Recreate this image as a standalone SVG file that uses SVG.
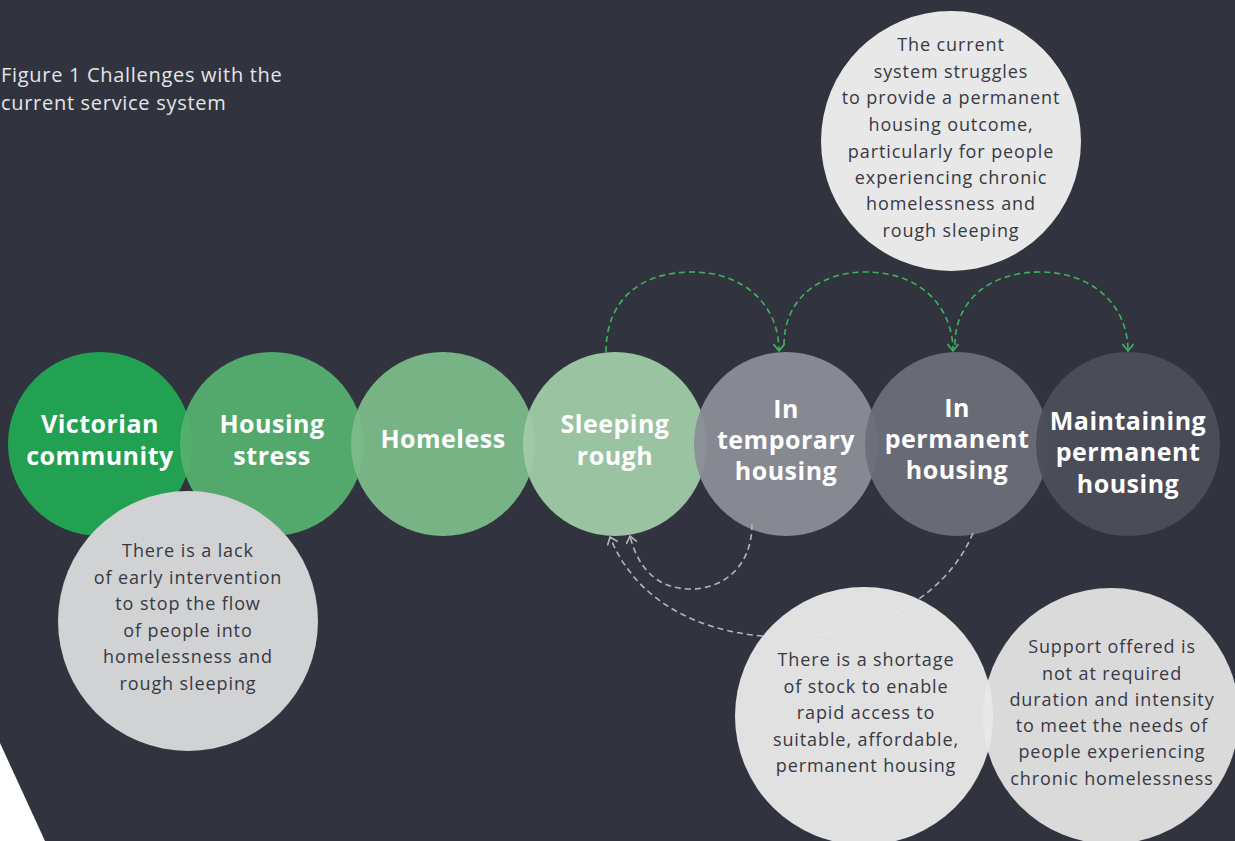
<svg xmlns="http://www.w3.org/2000/svg" width="1235" height="841" viewBox="0 0 1235 841">
  <defs>
    <marker id="arrowGreen" viewBox="0 0 12 12" refX="10" refY="6" markerWidth="12" markerHeight="12" markerUnits="userSpaceOnUse" orient="auto">
      <path d="M3,0.5 L10,6 L3,11.5" fill="none" stroke="#3db35e" stroke-width="1.6"/>
    </marker>
    <marker id="arrowGrey" viewBox="0 0 12 12" refX="10" refY="6" markerWidth="12" markerHeight="12" markerUnits="userSpaceOnUse" orient="auto">
      <path d="M3,0.5 L10,6 L3,11.5" fill="none" stroke="#b3b5bb" stroke-width="1.6"/>
    </marker>
  </defs>
  <style>
    .stage { fill-opacity: 0.95; }
    .label { font-family: "Open Sans", "Liberation Sans", sans-serif; font-weight: 700; font-size: 25px; letter-spacing: 0.5px; fill: #ffffff; text-anchor: middle; }
    .note { font-family: "Open Sans", "Liberation Sans", sans-serif; font-size: 18px; letter-spacing: 0.9px; fill: #373943; text-anchor: middle; }
    .title { font-family: "Open Sans", "Liberation Sans", sans-serif; font-size: 20px; letter-spacing: 0.7px; fill: #e4e5e8; }
    .flow { fill: none; stroke: #3db35e; stroke-width: 1.6; stroke-dasharray: 6 4; }
    .back { fill: none; stroke: #b3b5bb; stroke-width: 1.6; stroke-dasharray: 6 4; }
  </style>

  <rect width="1235" height="841" fill="#31343f"/>
  <polygon points="0,743 45,841 0,841" fill="#ffffff"/>

  <text class="title" x="1" y="82">Figure 1 Challenges with the</text>
  <text class="title" x="1" y="110">current service system</text>

  <!-- pathway stages -->
  <g id="node-victorian-community">
    <circle class="stage" cx="100" cy="444" r="92" fill="#21a852"/>
    <text class="label" x="100" y="433">Victorian</text>
    <text class="label" x="100" y="465">community</text>
  </g>
  <g id="node-housing-stress">
    <circle class="stage" cx="272" cy="444" r="92" fill="#55b06e"/>
    <text class="label" x="272" y="433">Housing</text>
    <text class="label" x="272" y="465">stress</text>
  </g>
  <g id="node-homeless">
    <circle class="stage" cx="443" cy="444" r="92" fill="#7bbb89"/>
    <text class="label" x="443" y="448">Homeless</text>
  </g>
  <g id="node-sleeping-rough">
    <circle class="stage" cx="615" cy="444" r="92" fill="#a0cba8"/>
    <text class="label" x="615" y="433">Sleeping</text>
    <text class="label" x="615" y="465">rough</text>
  </g>
  <g id="node-temporary-housing">
    <circle class="stage" cx="786" cy="444" r="92" fill="#8b8d97"/>
    <text class="label" x="786" y="418">In</text>
    <text class="label" x="786" y="449">temporary</text>
    <text class="label" x="786" y="480">housing</text>
  </g>
  <g id="node-permanent-housing">
    <circle class="stage" cx="957" cy="444" r="92" fill="#6c6e79"/>
    <text class="label" x="957" y="417">In</text>
    <text class="label" x="957" y="448">permanent</text>
    <text class="label" x="957" y="479">housing</text>
  </g>
  <g id="node-maintaining-housing">
    <circle class="stage" cx="1128" cy="444" r="92" fill="#4c4e59"/>
    <text class="label" x="1128" y="430">Maintaining</text>
    <text class="label" x="1128" y="461">permanent</text>
    <text class="label" x="1128" y="493">housing</text>
  </g>

  <!-- challenge callouts -->
  <g id="note-permanent-outcome">
    <circle cx="951" cy="141" r="130" fill="#e8e8e9"/>
    <text class="note" x="951" y="51">The current</text>
    <text class="note" x="951" y="78">system struggles</text>
    <text class="note" x="951" y="104">to provide a permanent</text>
    <text class="note" x="951" y="131">housing outcome,</text>
    <text class="note" x="951" y="158">particularly for people</text>
    <text class="note" x="951" y="184">experiencing chronic</text>
    <text class="note" x="951" y="210">homelessness and</text>
    <text class="note" x="951" y="237">rough sleeping</text>
  </g>
  <g id="note-early-intervention">
    <circle cx="188" cy="621" r="130" fill="#d1d2d4"/>
    <text class="note" x="188" y="557">There is a lack</text>
    <text class="note" x="188" y="584">of early intervention</text>
    <text class="note" x="188" y="610">to stop the flow</text>
    <text class="note" x="188" y="637">of people into</text>
    <text class="note" x="188" y="663">homelessness and</text>
    <text class="note" x="188" y="690">rough sleeping</text>
  </g>

  <!-- connectors -->
  <g id="connectors">
    <path class="flow" d="M606,352 C606,300 640,272 692,272 C744,272 779,305 779,351" marker-end="url(#arrowGreen)"/>
    <path class="flow" d="M784,345 C784,300 818,272 866,272 C918,272 953,305 953,351" marker-end="url(#arrowGreen)"/>
    <path class="flow" d="M955,345 C955,300 990,272 1040,272 C1092,272 1128,305 1128,351" marker-end="url(#arrowGreen)"/>
    <path class="back" d="M752,524 C752,565 725,589 690,589 C655,589 637,565 630,536" marker-end="url(#arrowGrey)"/>
    <path class="back" d="M973,533 C945,600 870,637 787,637 C700,637 635,600 610,537" marker-end="url(#arrowGrey)"/>
  </g>

  <g id="note-stock-shortage">
    <circle cx="864" cy="716" r="129" fill="#e8e8e8" fill-opacity="0.96"/>
    <text class="note" x="866" y="666">There is a shortage</text>
    <text class="note" x="866" y="693">of stock to enable</text>
    <text class="note" x="866" y="719">rapid access to</text>
    <text class="note" x="866" y="746">suitable, affordable,</text>
    <text class="note" x="866" y="772">permanent housing</text>
  </g>
  <g id="note-support-intensity">
    <circle cx="1111" cy="716" r="128" fill="#e8e8e8" fill-opacity="0.92"/>
    <text class="note" x="1112" y="653">Support offered is</text>
    <text class="note" x="1112" y="680">not at required</text>
    <text class="note" x="1112" y="706">duration and intensity</text>
    <text class="note" x="1112" y="732">to meet the needs of</text>
    <text class="note" x="1112" y="758">people experiencing</text>
    <text class="note" x="1112" y="785">chronic homelessness</text>
  </g>
</svg>
